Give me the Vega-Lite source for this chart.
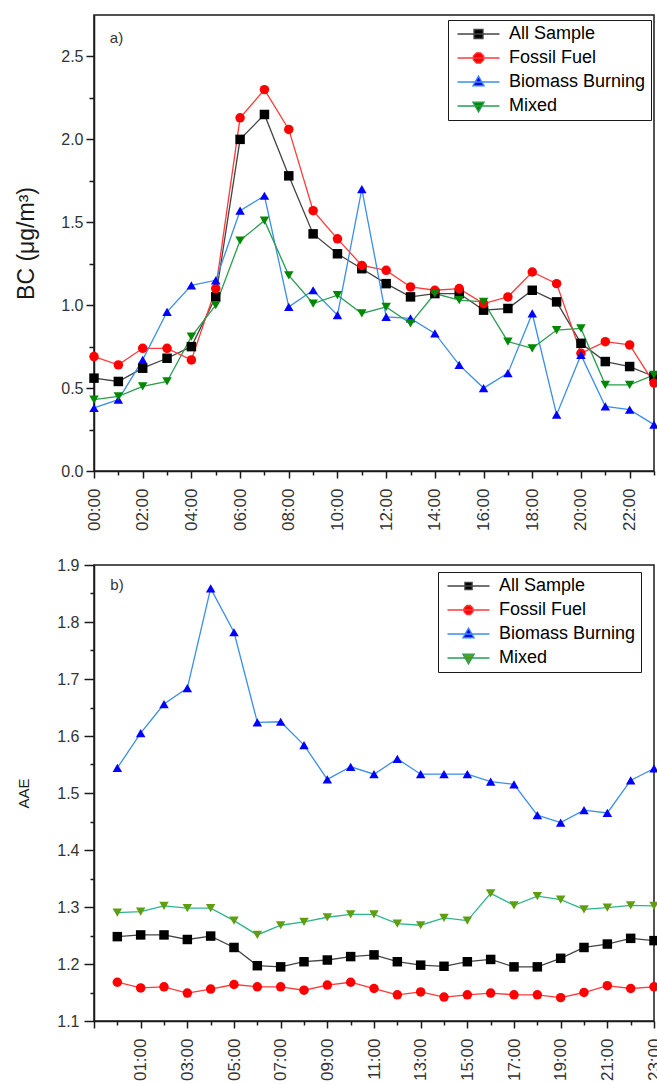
{
 "$schema": "https://vega.github.io/schema/vega-lite/v6.json",
 "background": "white",
 "padding": {"left": 15, "top": 14, "right": 2, "bottom": 0},
 "spacing": 24,
 "config": {
  "font": "Liberation Sans",
  "view": {"stroke": "#1a1a1a", "strokeWidth": 1.5},
  "axis": {"grid": false, "domainColor": "#1a1a1a", "domainWidth": 1.5, "tickColor": "#1a1a1a", "tickWidth": 1.5, "labelColor": "#333333", "labelFont": "Liberation Sans", "titleFont": "Liberation Sans", "titleFontWeight": "normal", "titleColor": "#1a1a1a"},
  "legend": {"labelFont": "Liberation Sans", "labelFontSize": 18, "labelColor": "#000000", "strokeColor": "#1a1a1a", "fillColor": "white", "padding": 5, "rowPadding": 6, "labelOffset": 38, "symbolSize": 81, "symbolStrokeWidth": 1.3}
 },
 "datasets": {
  "bc": [
   {"hour":0,"series":"All Sample","bc":0.56},{"hour":0,"series":"Fossil Fuel","bc":0.69},{"hour":0,"series":"Biomass Burning","bc":0.38},{"hour":0,"series":"Mixed","bc":0.43},
   {"hour":1,"series":"All Sample","bc":0.54},{"hour":1,"series":"Fossil Fuel","bc":0.64},{"hour":1,"series":"Biomass Burning","bc":0.43},{"hour":1,"series":"Mixed","bc":0.45},
   {"hour":2,"series":"All Sample","bc":0.62},{"hour":2,"series":"Fossil Fuel","bc":0.74},{"hour":2,"series":"Biomass Burning","bc":0.67},{"hour":2,"series":"Mixed","bc":0.51},
   {"hour":3,"series":"All Sample","bc":0.68},{"hour":3,"series":"Fossil Fuel","bc":0.74},{"hour":3,"series":"Biomass Burning","bc":0.96},{"hour":3,"series":"Mixed","bc":0.54},
   {"hour":4,"series":"All Sample","bc":0.75},{"hour":4,"series":"Fossil Fuel","bc":0.67},{"hour":4,"series":"Biomass Burning","bc":1.12},{"hour":4,"series":"Mixed","bc":0.81},
   {"hour":5,"series":"All Sample","bc":1.05},{"hour":5,"series":"Fossil Fuel","bc":1.10},{"hour":5,"series":"Biomass Burning","bc":1.15},{"hour":5,"series":"Mixed","bc":1.00},
   {"hour":6,"series":"All Sample","bc":2.00},{"hour":6,"series":"Fossil Fuel","bc":2.13},{"hour":6,"series":"Biomass Burning","bc":1.57},{"hour":6,"series":"Mixed","bc":1.39},
   {"hour":7,"series":"All Sample","bc":2.15},{"hour":7,"series":"Fossil Fuel","bc":2.30},{"hour":7,"series":"Biomass Burning","bc":1.66},{"hour":7,"series":"Mixed","bc":1.51},
   {"hour":8,"series":"All Sample","bc":1.78},{"hour":8,"series":"Fossil Fuel","bc":2.06},{"hour":8,"series":"Biomass Burning","bc":0.99},{"hour":8,"series":"Mixed","bc":1.18},
   {"hour":9,"series":"All Sample","bc":1.43},{"hour":9,"series":"Fossil Fuel","bc":1.57},{"hour":9,"series":"Biomass Burning","bc":1.09},{"hour":9,"series":"Mixed","bc":1.01},
   {"hour":10,"series":"All Sample","bc":1.31},{"hour":10,"series":"Fossil Fuel","bc":1.40},{"hour":10,"series":"Biomass Burning","bc":0.94},{"hour":10,"series":"Mixed","bc":1.06},
   {"hour":11,"series":"All Sample","bc":1.22},{"hour":11,"series":"Fossil Fuel","bc":1.24},{"hour":11,"series":"Biomass Burning","bc":1.70},{"hour":11,"series":"Mixed","bc":0.95},
   {"hour":12,"series":"All Sample","bc":1.13},{"hour":12,"series":"Fossil Fuel","bc":1.21},{"hour":12,"series":"Biomass Burning","bc":0.93},{"hour":12,"series":"Mixed","bc":0.99},
   {"hour":13,"series":"All Sample","bc":1.05},{"hour":13,"series":"Fossil Fuel","bc":1.11},{"hour":13,"series":"Biomass Burning","bc":0.92},{"hour":13,"series":"Mixed","bc":0.89},
   {"hour":14,"series":"All Sample","bc":1.07},{"hour":14,"series":"Fossil Fuel","bc":1.09},{"hour":14,"series":"Biomass Burning","bc":0.83},{"hour":14,"series":"Mixed","bc":1.07},
   {"hour":15,"series":"All Sample","bc":1.07},{"hour":15,"series":"Fossil Fuel","bc":1.10},{"hour":15,"series":"Biomass Burning","bc":0.64},{"hour":15,"series":"Mixed","bc":1.03},
   {"hour":16,"series":"All Sample","bc":0.97},{"hour":16,"series":"Fossil Fuel","bc":1.01},{"hour":16,"series":"Biomass Burning","bc":0.50},{"hour":16,"series":"Mixed","bc":1.02},
   {"hour":17,"series":"All Sample","bc":0.98},{"hour":17,"series":"Fossil Fuel","bc":1.05},{"hour":17,"series":"Biomass Burning","bc":0.59},{"hour":17,"series":"Mixed","bc":0.78},
   {"hour":18,"series":"All Sample","bc":1.09},{"hour":18,"series":"Fossil Fuel","bc":1.20},{"hour":18,"series":"Biomass Burning","bc":0.95},{"hour":18,"series":"Mixed","bc":0.74},
   {"hour":19,"series":"All Sample","bc":1.02},{"hour":19,"series":"Fossil Fuel","bc":1.13},{"hour":19,"series":"Biomass Burning","bc":0.34},{"hour":19,"series":"Mixed","bc":0.85},
   {"hour":20,"series":"All Sample","bc":0.77},{"hour":20,"series":"Fossil Fuel","bc":0.71},{"hour":20,"series":"Biomass Burning","bc":0.70},{"hour":20,"series":"Mixed","bc":0.86},
   {"hour":21,"series":"All Sample","bc":0.66},{"hour":21,"series":"Fossil Fuel","bc":0.78},{"hour":21,"series":"Biomass Burning","bc":0.39},{"hour":21,"series":"Mixed","bc":0.52},
   {"hour":22,"series":"All Sample","bc":0.63},{"hour":22,"series":"Fossil Fuel","bc":0.76},{"hour":22,"series":"Biomass Burning","bc":0.37},{"hour":22,"series":"Mixed","bc":0.52},
   {"hour":23,"series":"All Sample","bc":0.57},{"hour":23,"series":"Fossil Fuel","bc":0.53},{"hour":23,"series":"Biomass Burning","bc":0.28},{"hour":23,"series":"Mixed","bc":0.58}
  ],
  "aae": [
   {"hour":0,"series":"All Sample","aae":1.248},{"hour":0,"series":"Fossil Fuel","aae":1.168},{"hour":0,"series":"Biomass Burning","aae":1.544},{"hour":0,"series":"Mixed","aae":1.290},
   {"hour":1,"series":"All Sample","aae":1.251},{"hour":1,"series":"Fossil Fuel","aae":1.158},{"hour":1,"series":"Biomass Burning","aae":1.605},{"hour":1,"series":"Mixed","aae":1.292},
   {"hour":2,"series":"All Sample","aae":1.251},{"hour":2,"series":"Fossil Fuel","aae":1.160},{"hour":2,"series":"Biomass Burning","aae":1.656},{"hour":2,"series":"Mixed","aae":1.302},
   {"hour":3,"series":"All Sample","aae":1.243},{"hour":3,"series":"Fossil Fuel","aae":1.149},{"hour":3,"series":"Biomass Burning","aae":1.684},{"hour":3,"series":"Mixed","aae":1.298},
   {"hour":4,"series":"All Sample","aae":1.249},{"hour":4,"series":"Fossil Fuel","aae":1.156},{"hour":4,"series":"Biomass Burning","aae":1.859},{"hour":4,"series":"Mixed","aae":1.298},
   {"hour":5,"series":"All Sample","aae":1.229},{"hour":5,"series":"Fossil Fuel","aae":1.164},{"hour":5,"series":"Biomass Burning","aae":1.782},{"hour":5,"series":"Mixed","aae":1.276},
   {"hour":6,"series":"All Sample","aae":1.197},{"hour":6,"series":"Fossil Fuel","aae":1.160},{"hour":6,"series":"Biomass Burning","aae":1.624},{"hour":6,"series":"Mixed","aae":1.251},
   {"hour":7,"series":"All Sample","aae":1.195},{"hour":7,"series":"Fossil Fuel","aae":1.160},{"hour":7,"series":"Biomass Burning","aae":1.625},{"hour":7,"series":"Mixed","aae":1.268},
   {"hour":8,"series":"All Sample","aae":1.204},{"hour":8,"series":"Fossil Fuel","aae":1.154},{"hour":8,"series":"Biomass Burning","aae":1.584},{"hour":8,"series":"Mixed","aae":1.274},
   {"hour":9,"series":"All Sample","aae":1.207},{"hour":9,"series":"Fossil Fuel","aae":1.163},{"hour":9,"series":"Biomass Burning","aae":1.524},{"hour":9,"series":"Mixed","aae":1.282},
   {"hour":10,"series":"All Sample","aae":1.213},{"hour":10,"series":"Fossil Fuel","aae":1.168},{"hour":10,"series":"Biomass Burning","aae":1.546},{"hour":10,"series":"Mixed","aae":1.287},
   {"hour":11,"series":"All Sample","aae":1.216},{"hour":11,"series":"Fossil Fuel","aae":1.157},{"hour":11,"series":"Biomass Burning","aae":1.533},{"hour":11,"series":"Mixed","aae":1.287},
   {"hour":12,"series":"All Sample","aae":1.204},{"hour":12,"series":"Fossil Fuel","aae":1.146},{"hour":12,"series":"Biomass Burning","aae":1.560},{"hour":12,"series":"Mixed","aae":1.271},
   {"hour":13,"series":"All Sample","aae":1.198},{"hour":13,"series":"Fossil Fuel","aae":1.151},{"hour":13,"series":"Biomass Burning","aae":1.533},{"hour":13,"series":"Mixed","aae":1.268},
   {"hour":14,"series":"All Sample","aae":1.196},{"hour":14,"series":"Fossil Fuel","aae":1.142},{"hour":14,"series":"Biomass Burning","aae":1.533},{"hour":14,"series":"Mixed","aae":1.281},
   {"hour":15,"series":"All Sample","aae":1.204},{"hour":15,"series":"Fossil Fuel","aae":1.146},{"hour":15,"series":"Biomass Burning","aae":1.533},{"hour":15,"series":"Mixed","aae":1.276},
   {"hour":16,"series":"All Sample","aae":1.208},{"hour":16,"series":"Fossil Fuel","aae":1.149},{"hour":16,"series":"Biomass Burning","aae":1.520},{"hour":16,"series":"Mixed","aae":1.324},
   {"hour":17,"series":"All Sample","aae":1.195},{"hour":17,"series":"Fossil Fuel","aae":1.146},{"hour":17,"series":"Biomass Burning","aae":1.515},{"hour":17,"series":"Mixed","aae":1.303},
   {"hour":18,"series":"All Sample","aae":1.195},{"hour":18,"series":"Fossil Fuel","aae":1.146},{"hour":18,"series":"Biomass Burning","aae":1.461},{"hour":18,"series":"Mixed","aae":1.319},
   {"hour":19,"series":"All Sample","aae":1.210},{"hour":19,"series":"Fossil Fuel","aae":1.141},{"hour":19,"series":"Biomass Burning","aae":1.448},{"hour":19,"series":"Mixed","aae":1.313},
   {"hour":20,"series":"All Sample","aae":1.229},{"hour":20,"series":"Fossil Fuel","aae":1.150},{"hour":20,"series":"Biomass Burning","aae":1.470},{"hour":20,"series":"Mixed","aae":1.296},
   {"hour":21,"series":"All Sample","aae":1.235},{"hour":21,"series":"Fossil Fuel","aae":1.162},{"hour":21,"series":"Biomass Burning","aae":1.465},{"hour":21,"series":"Mixed","aae":1.299},
   {"hour":22,"series":"All Sample","aae":1.245},{"hour":22,"series":"Fossil Fuel","aae":1.157},{"hour":22,"series":"Biomass Burning","aae":1.522},{"hour":22,"series":"Mixed","aae":1.303},
   {"hour":23,"series":"All Sample","aae":1.241},{"hour":23,"series":"Fossil Fuel","aae":1.160},{"hour":23,"series":"Biomass Burning","aae":1.543},{"hour":23,"series":"Mixed","aae":1.302}
  ]
 },
 "resolve": {"scale": {"color": "independent", "stroke": "independent", "shape": "independent"}},
 "vconcat": [
  {
   "width": 560, "height": 456,
   "resolve": {"scale": {"color": "independent", "stroke": "independent", "shape": "independent"}},
   "encoding": {
    "x": {"field": "hour", "type": "quantitative", "scale": {"domain": [0, 23], "nice": false, "zero": false},
     "axis": {"title": null, "values": [0,1,2,3,4,5,6,7,8,9,10,11,12,13,14,15,16,17,18,19,20,21,22,23], "labelAngle": 270, "labelFontSize": 17, "labelPadding": 10,
      "labelExpr": "datum.value % 2 == 0 ? (datum.value < 10 ? '0' : '') + datum.value + ':00' : ''",
      "tickSize": {"condition": {"test": "datum.value % 2 == 0", "value": 7}, "value": 4}}},
    "y": {"field": "bc", "type": "quantitative", "scale": {"domain": [0, 2.75], "nice": false},
     "axis": {"title": "BC (μg/m³)", "titleFontSize": 23, "titlePadding": 22, "values": [0,0.25,0.5,0.75,1,1.25,1.5,1.75,2,2.25,2.5], "labelFontSize": 16, "labelPadding": 3,
      "labelExpr": "datum.value % 0.5 == 0 ? format(datum.value, '.1f') : ''",
      "tickSize": {"condition": {"test": "datum.value % 0.5 == 0", "value": 8}, "value": 5}}}
   },
   "layer": [
    {"data": {"name": "bc"}, "mark": {"type": "line", "strokeWidth": 1.3},
     "encoding": {"stroke": {"field": "series", "type": "nominal", "scale": {"domain": ["Mixed", "Biomass Burning", "Fossil Fuel", "All Sample"], "range": ["#2a9d50", "#3b8fe8", "#ff3a3a", "#444444"]}, "legend": null}}},
    {"data": {"name": "bc"}, "mark": {"type": "point", "filled": true, "size": 90, "opacity": 1},
     "encoding": {
      "shape": {"field": "series", "type": "nominal", "scale": {"domain": ["Fossil Fuel", "All Sample", "Mixed", "Biomass Burning"], "range": ["circle", "square", "triangle-down", "triangle-up"]}, "legend": null},
      "color": {"field": "series", "type": "nominal", "scale": {"domain": ["Fossil Fuel", "All Sample", "Mixed", "Biomass Burning"], "range": ["#ff0000", "#000000", "#008800", "#0000ff"]}, "legend": null}
     }},
    {"data": {"name": "bc"}, "transform": [{"filter": "false"}], "mark": {"type": "point", "filled": true, "size": 90, "opacity": 1},
     "encoding": {
      "shape": {"field": "series", "type": "nominal", "scale": {"domain": ["All Sample", "Fossil Fuel", "Biomass Burning", "Mixed"], "range": ["M-1,0H8.33M2.67,-1H4.67V1H2.67Z", "M-1,0H8.33M3.22,-1.15H4.12L4.82,-0.45V0.45L4.12,1.15H3.22L2.52,0.45V-0.45Z", "M-1,0H8.33M2.42,0.85L4.92,0.85L3.67,-1.3Z", "M-1,0H8.33M2.42,-0.85L4.92,-0.85L3.67,1.3Z"]},
       "legend": {"title": null, "orient": "none", "legendX": 354, "legendY": 5}},
      "color": {"field": "series", "type": "nominal", "scale": {"domain": ["All Sample", "Fossil Fuel", "Biomass Burning", "Mixed"], "range": ["#000000", "#ff0000", "#0000ff", "#008800"]},
       "legend": {"title": null, "orient": "none", "legendX": 354, "legendY": 5}},
      "stroke": {"field": "series", "type": "nominal", "scale": {"domain": ["All Sample", "Fossil Fuel", "Biomass Burning", "Mixed"], "range": ["#444444", "#ff3a3a", "#3b8fe8", "#2a9d50"]},
       "legend": {"title": null, "orient": "none", "legendX": 354, "legendY": 5}}
     }},
    {"data": {"values": [{"hour": 0.65, "bc": 2.61, "label": "a)"}]}, "mark": {"type": "text", "align": "left", "baseline": "middle", "fontSize": 15, "color": "#333333"},
     "encoding": {"text": {"field": "label", "type": "nominal"}}}
   ]
  },
  {
   "width": 560, "height": 456,
   "resolve": {"scale": {"color": "independent", "stroke": "independent", "shape": "independent"}},
   "encoding": {
    "x": {"field": "hour", "type": "quantitative", "scale": {"domain": [-1, 23], "nice": false, "zero": false},
     "axis": {"title": null, "values": [-1,0,1,2,3,4,5,6,7,8,9,10,11,12,13,14,15,16,17,18,19,20,21,22,23], "labelAngle": 270, "labelFontSize": 17, "labelPadding": 10,
      "labelExpr": "(datum.value % 2 != 0 && datum.value > 0) ? (datum.value < 10 ? '0' : '') + datum.value + ':00' : ''",
      "tickSize": {"condition": {"test": "datum.value % 2 != 0", "value": 7}, "value": 4}}},
    "y": {"field": "aae", "type": "quantitative", "scale": {"domain": [1.1, 1.9], "nice": false, "zero": false},
     "axis": {"title": "AAE", "titleFontSize": 15, "titlePadding": 25, "values": [1.1,1.15,1.2,1.25,1.3,1.35,1.4,1.45,1.5,1.55,1.6,1.65,1.7,1.75,1.8,1.85,1.9], "labelFontSize": 16, "labelPadding": 5,
      "labelExpr": "round(datum.value * 100) % 10 == 0 ? format(datum.value, '.1f') : ''",
      "tickSize": {"condition": {"test": "round(datum.value * 100) % 10 == 0", "value": 10}, "value": 4}}}
   },
   "layer": [
    {"data": {"name": "aae"}, "mark": {"type": "line", "strokeWidth": 1.3},
     "encoding": {"stroke": {"field": "series", "type": "nominal", "scale": {"domain": ["Mixed", "Biomass Burning", "Fossil Fuel", "All Sample"], "range": ["#2fb48e", "#3b8fe8", "#ff3a3a", "#444444"]}, "legend": null}}},
    {"data": {"name": "aae"}, "mark": {"type": "point", "filled": true, "size": 90, "opacity": 1},
     "encoding": {
      "shape": {"field": "series", "type": "nominal", "scale": {"domain": ["Fossil Fuel", "All Sample", "Mixed", "Biomass Burning"], "range": ["circle", "square", "triangle-down", "triangle-up"]}, "legend": null},
      "color": {"field": "series", "type": "nominal", "scale": {"domain": ["Fossil Fuel", "All Sample", "Mixed", "Biomass Burning"], "range": ["#ff0000", "#000000", "#5f9e10", "#0000ff"]}, "legend": null}
     }},
    {"data": {"name": "aae"}, "transform": [{"filter": "false"}], "mark": {"type": "point", "filled": true, "size": 90, "opacity": 1},
     "encoding": {
      "shape": {"field": "series", "type": "nominal", "scale": {"domain": ["All Sample", "Fossil Fuel", "Biomass Burning", "Mixed"], "range": ["M-1,0H8.33M2.87,-0.8H4.47V0.8H2.87Z", "M-1,0H8.33M3.27,-1H4.07L4.67,-0.4V0.4L4.07,1H3.27L2.67,0.4V-0.4Z", "M-1,0H8.33M2.42,0.85L4.92,0.85L3.67,-1.3Z", "M-1,0H8.33M2.42,-0.85L4.92,-0.85L3.67,1.3Z"]},
       "legend": {"title": null, "orient": "none", "legendX": 344, "legendY": 7}},
      "color": {"field": "series", "type": "nominal", "scale": {"domain": ["All Sample", "Fossil Fuel", "Biomass Burning", "Mixed"], "range": ["#000000", "#ff0000", "#0000ff", "#5f9e10"]},
       "legend": {"title": null, "orient": "none", "legendX": 344, "legendY": 7}},
      "stroke": {"field": "series", "type": "nominal", "scale": {"domain": ["All Sample", "Fossil Fuel", "Biomass Burning", "Mixed"], "range": ["#444444", "#ff3a3a", "#3b8fe8", "#2a9d50"]},
       "legend": {"title": null, "orient": "none", "legendX": 344, "legendY": 7}}
     }},
    {"data": {"values": [{"hour": -0.3, "aae": 1.865, "label": "b)"}]}, "mark": {"type": "text", "align": "left", "baseline": "middle", "fontSize": 15, "color": "#333333"},
     "encoding": {"text": {"field": "label", "type": "nominal"}}}
   ]
  }
 ]
}
